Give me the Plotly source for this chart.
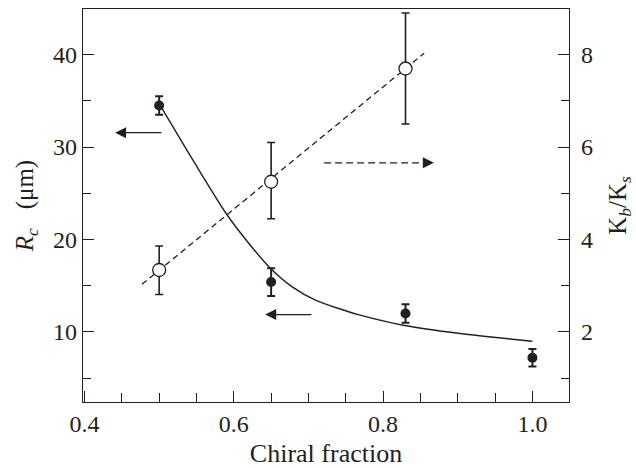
import plotly.graph_objects as go

# Data
chiral_rc = [0.5, 0.65, 0.83, 1.0]
rc_values = [34.5, 15.4, 12.0, 7.2]
rc_err = [1.0, 1.5, 1.0, 0.95]

chiral_k = [0.5, 0.65, 0.83]
k_values = [3.34, 5.25, 7.7]
k_err_plus = [0.52, 0.85, 1.2]
k_err_minus = [0.53, 0.8, 1.2]

curve_x = [0.503, 0.5455, 0.590, 0.617, 0.6476, 0.6788, 0.7101, 0.7413, 0.768, 0.827, 0.903, 1.0]
curve_y = [34.3, 28.56, 22.79, 19.90, 17.01, 14.85, 13.41, 12.51, 11.85, 10.73, 9.83, 8.99]

fit_x = [0.477, 0.855]
fit_y = [3.03, 8.03]

x_ticks = [0.4, 0.6, 0.8, 1.0]
x_tick_labels = ["0.4", "0.6", "0.8", "1.0"]
left_ticks = [10, 20, 30, 40]
right_ticks = [2, 4, 6, 8]

INK = "#231f20"
FONT = "Liberation Serif, Times New Roman, serif"

fig = go.Figure()

fig.add_trace(go.Scatter(x=curve_x, y=curve_y, mode="lines",
                         line=dict(color=INK, width=1.4, shape="spline", smoothing=0.8),
                         showlegend=False, hoverinfo="skip"))
fig.add_trace(go.Scatter(x=fit_x, y=fit_y, yaxis="y2", mode="lines",
                         line=dict(color=INK, width=1.3, dash="6px,4px"), showlegend=False, hoverinfo="skip"))
fig.add_trace(go.Scatter(x=chiral_rc, y=rc_values, mode="markers",
                         marker=dict(symbol="circle", size=10, color=INK),
                         error_y=dict(type="data", array=rc_err, color=INK, thickness=2, width=4),
                         showlegend=False))
fig.add_trace(go.Scatter(x=chiral_k, y=k_values, yaxis="y2", mode="markers",
                         marker=dict(symbol="circle", size=13, color="white", line=dict(color=INK, width=1.3)),
                         error_y=dict(type="data", symmetric=False, array=k_err_plus, arrayminus=k_err_minus,
                                      color=INK, thickness=1.6, width=4),
                         showlegend=False))

# dashed arrow body
fig.add_shape(type="line", xref="x", yref="y2", x0=0.721, x1=0.858, y0=5.66, y1=5.66,
              line=dict(color=INK, width=1.3, dash="7px,4px"))

arrow_common = dict(text="", showarrow=True, arrowhead=2, arrowsize=1.7, arrowwidth=1.3, arrowcolor=INK,
                    axref="x", xref="x")
fig.add_annotation(x=0.441, y=31.56, ax=0.505, ay=31.56, yref="y", ayref="y", **arrow_common)
fig.add_annotation(x=0.642, y=11.88, ax=0.706, ay=11.88, yref="y", ayref="y", **arrow_common)
fig.add_annotation(x=0.868, y=5.66, ax=0.852, ay=5.66, yref="y2", ayref="y2", **arrow_common)

tick_font = dict(family=FONT, size=24, color=INK)

fig.update_layout(
    width=636, height=468,
    margin=dict(l=83, r=67, t=9, b=66),
    paper_bgcolor="white", plot_bgcolor="white",
    font=dict(family=FONT, color=INK),
    xaxis=dict(range=[0.398, 1.049], tickvals=x_ticks, ticktext=x_tick_labels, ticks="inside", ticklen=11,
               tickwidth=1.3, tickcolor=INK, showline=True, linecolor=INK, linewidth=1.3, mirror=True,
               showgrid=False, zeroline=False, tickfont=tick_font, automargin=False,
               minor=dict(dtick=0.05, tick0=0.4, ticks="inside", ticklen=9, tickwidth=1.3, tickcolor=INK, showgrid=False),
               title=dict(text="Chiral fraction", font=dict(family=FONT, size=26, color=INK), standoff=9)),
    yaxis=dict(range=[2.42, 44.94], tickvals=left_ticks, ticks="inside", ticklen=11, tickwidth=1.3, tickcolor=INK,
               showline=True, linecolor=INK, linewidth=1.3, showgrid=False, zeroline=False, tickfont=tick_font,
               automargin=False,
               minor=dict(dtick=5, tick0=0, ticks="inside", ticklen=8, tickwidth=1.3, tickcolor=INK, showgrid=False),
               title=dict(text="<i>R<sub>c</sub></i>\u00a0\u00a0\u00a0(μm)", font=dict(family=FONT, size=25, color=INK), standoff=12)),
    yaxis2=dict(range=[0.484, 8.988], overlaying="y", side="right", tickvals=right_ticks, ticks="inside", ticklen=11,
                tickwidth=1.3, tickcolor=INK, showline=True, linecolor=INK, linewidth=1.3, showgrid=False,
                zeroline=False, tickfont=tick_font, ticklabelstandoff=6, automargin=False,
                minor=dict(dtick=1, tick0=0, ticks="inside", ticklen=8, tickwidth=1.3, tickcolor=INK, showgrid=False),
                title=dict(text="K<sub><i>b</i></sub>/K<sub><i>s</i></sub>", font=dict(family=FONT, size=25, color=INK), standoff=16)),
)

fig.write_html("out.html", config={"displayModeBar": False},
               post_script="document.body.style.margin='0';document.body.style.overflow='hidden';")
